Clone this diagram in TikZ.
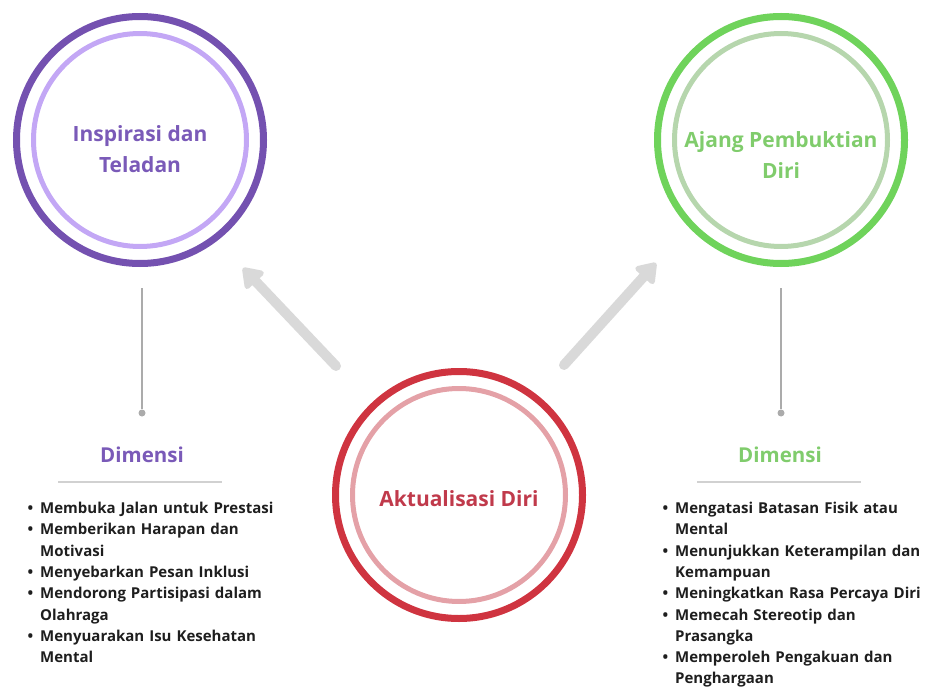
\documentclass[tikz,border=0pt]{standalone}
\usepackage{fontspec}
\setmainfont{Open Sans}
\usepackage{enumitem}
\usetikzlibrary{arrows.meta, positioning, calc}

\definecolor{purpdark}{HTML}{7451B0}
\definecolor{purplight}{HTML}{C3A7F5}
\definecolor{purptext}{HTML}{7A5AB8}
\definecolor{grndark}{HTML}{6FD35B}
\definecolor{grnlight}{HTML}{B6D6AD}
\definecolor{grntext}{HTML}{80CC6C}
\definecolor{reddark}{HTML}{CF3440}
\definecolor{redlight}{HTML}{E4A1A7}
\definecolor{redtext}{HTML}{C03A4B}
\definecolor{arrowgray}{HTML}{D9D9D9}
\definecolor{stemgray}{HTML}{ABABAB}
\definecolor{bodytext}{HTML}{1E1E1E}

\newcommand{\dimlist}[1]{%
  \begin{itemize}[leftmargin=13pt, labelsep=7pt, itemsep=0pt, topsep=0pt, parsep=0pt, partopsep=0pt, label={\textbullet}]
  #1
  \end{itemize}}

\begin{document}
\begin{tikzpicture}[x=1pt, y=-1pt,
  outring/.style={circle, draw=#1, line width=7pt, minimum size=247pt, inner sep=0pt},
  inring/.style={circle, draw=#1, line width=5pt, minimum size=213pt, inner sep=0pt},
  title/.style={align=center, inner sep=0pt, font=\fontsize{21}{30.5}\selectfont\bfseries},
  bigarrow/.style={draw=arrowgray, line width=10pt, line cap=round,
    -{Triangle[length=21pt, width=28pt, round]}},
  stem/.style={draw=stemgray, line width=1.6pt},
  dot/.style={circle, fill=stemgray, inner sep=0pt, minimum size=7pt},
  dimhead/.style={font=\fontsize{20.5}{24}\selectfont\bfseries},
  rule/.style={draw=black!18, line width=1.3pt},
  dimbody/.style={anchor=north west, inner sep=0pt, text=bodytext,
    font=\fontsize{15}{21.3}\selectfont\bfseries}]
\useasboundingbox (0,0) rectangle (929,687);

\node[outring=purpdark] (insp) at (140,140) {};
\node[inring=purplight] (inspin) at (insp) {};
\node[title, text=purptext] (insptxt) at ([yshift=-9pt]insp.center) {Inspirasi dan\\Teladan};

\node[outring=grndark] (ajang) at (781,140) {};
\node[inring=grnlight] (ajangin) at (ajang) {};
\node[title, text=grntext] (ajangtxt) at ([yshift=-15pt]ajang.center) {Ajang Pembuktian\\Diri};

\node[outring=reddark] (aktu) at (459,495) {};
\node[inring=redlight] (aktuin) at (aktu) {};
\node[title, text=redtext] (aktutxt) at ([yshift=-4pt]aktu.center) {Aktualisasi Diri};

\coordinate (a1s) at (336,366);
\coordinate (a1e) at (243,268);
\coordinate (a2s) at (564,365);
\coordinate (a2e) at (656,263);
\draw[bigarrow] (a1s) -- (a1e);
\draw[bigarrow] (a2s) -- (a2e);

\coordinate (l1top) at (142,288);
\node[dot] (l1dot) at (142,413) {};
\draw[stem] (l1top) -- (l1dot);
\node[dimhead, text=purptext] (dim1) at (142,455) {Dimensi};
\coordinate (r1a) at (58,482);
\coordinate (r1b) at (222,482);
\draw[rule] (r1a) -- (r1b);

\coordinate (l2top) at (781,288);
\node[dot] (l2dot) at (781,413) {};
\draw[stem] (l2top) -- (l2dot);
\node[dimhead, text=grntext] (dim2) at (780,455) {Dimensi};
\coordinate (r2a) at (697,482);
\coordinate (r2b) at (861,482);
\draw[rule] (r2a) -- (r2b);

\node[dimbody, text width=280pt] (list1) at (27,492) {\dimlist{
  \item Membuka Jalan untuk Prestasi
  \item Memberikan Harapan dan\newline Motivasi
  \item Menyebarkan Pesan Inklusi
  \item Mendorong Partisipasi dalam\newline Olahraga
  \item Menyuarakan Isu Kesehatan\newline Mental}};

\node[dimbody, text width=265pt] (list2) at (662,492) {\dimlist{
  \item Mengatasi Batasan Fisik atau\newline Mental
  \item Menunjukkan Keterampilan dan\newline Kemampuan
  \item Meningkatkan Rasa Percaya Diri
  \item Memecah Stereotip dan\newline Prasangka
  \item Memperoleh Pengakuan dan\newline Penghargaan}};
\end{tikzpicture}
\end{document}
